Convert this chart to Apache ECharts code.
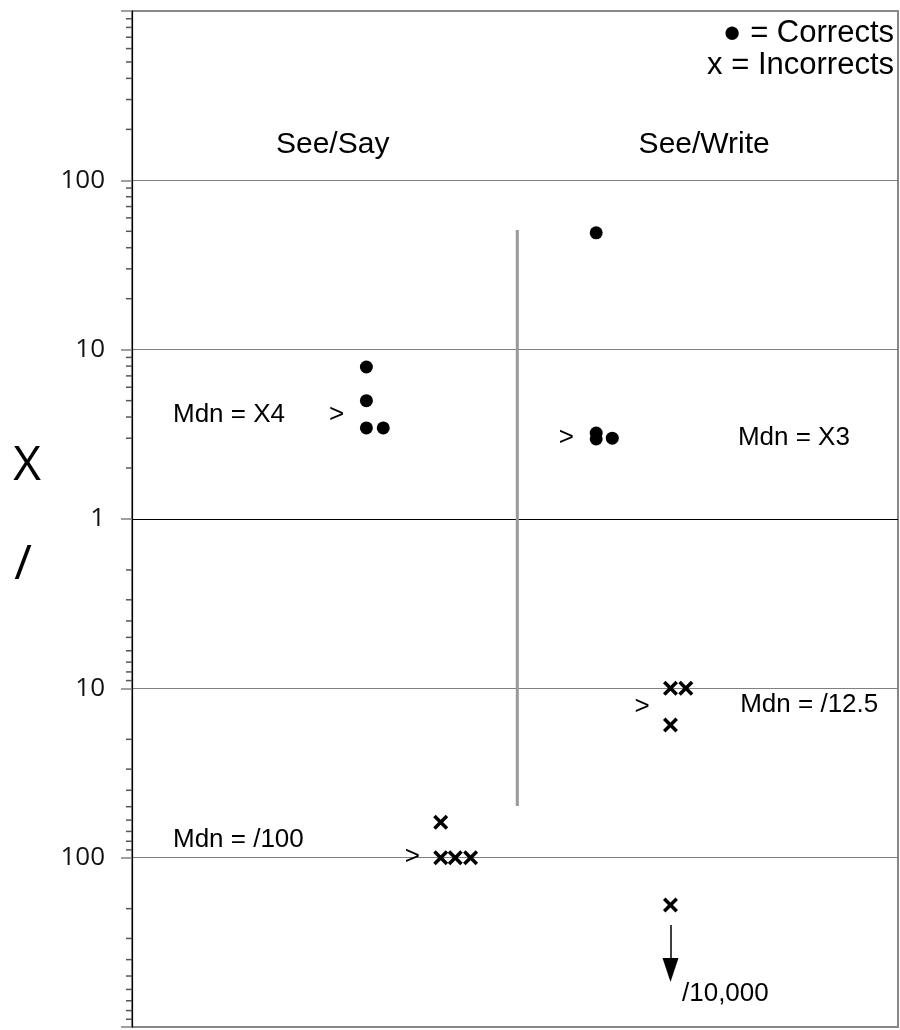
<!DOCTYPE html>
<html>
<head>
<meta charset="utf-8">
<script src="https://cdn.jsdelivr.net/npm/echarts@6/dist/echarts.min.js"></script>
<style>
  html, body { margin: 0; padding: 0; background: #fff; }
  #chart { width: 900px; height: 1030px; }
</style>
</head>
<body>
<div id="chart"></div>
<script>
// x = position across the sheet (0..10), y = multiply/divide value
const sayCorrectX = [3.06, 3.06, 3.06, 3.28];
const sayCorrectY = [7.9, 5.0, 3.45, 3.45];
const writeCorrectX = [6.06, 6.06, 6.06, 6.27];
const writeCorrectY = [49, 3.22, 2.97, 3.0];

const sayIncorrectX = [4.03, 4.03, 4.22, 4.42];
const sayIncorrectY = [0.0162, 0.01, 0.01, 0.01];
const writeIncorrectX = [7.03, 7.23, 7.03, 7.03];
const writeIncorrectY = [0.1, 0.1, 0.0607, 0.00525];

const dividerX = 5.03;
const dividerY = [50.9, 0.0202];

const arrowX = 7.03;
const arrowY = [0.0040, 0.00217];

const minorMultiples = [2, 3, 4, 5, 6, 7, 8, 9];
const decades = [1, 10, 100];

const notes = [
  { x: 2.62, y: 161.8, text: 'See/Say', align: 'center', size: 30 },
  { x: 7.47, y: 161.8, text: 'See/Write', align: 'center', size: 30 },
  { x: 0.535, y: 4.11, text: 'Mdn = X4', align: 'left', size: 26 },
  { x: 2.67, y: 4.14, text: '>', align: 'center', size: 26 },
  { x: 5.67, y: 3.01, text: '>', align: 'center', size: 26 },
  { x: 7.91, y: 3.0, text: 'Mdn = X3', align: 'left', size: 26 },
  { x: 6.66, y: 0.0776, text: '>', align: 'center', size: 26 },
  { x: 7.94, y: 0.0797, text: 'Mdn = /12.5', align: 'left', size: 26 },
  { x: 0.535, y: 0.0127, text: 'Mdn = /100', align: 'left', size: 26 },
  { x: 3.66, y: 0.0101, text: '>', align: 'center', size: 26 },
  { x: 7.18, y: 0.00156, text: '/10,000', align: 'left', size: 26 }
];

const crossPath = 'path://M0,2L2,0L6,4L10,0L12,2L8,6L12,10L10,12L6,8L2,12L0,10L4,6Z';

const zip = (xs, ys) => xs.map((x, i) => [x, ys[i]]);

const minorTicks = [];
decades.forEach(d => {
  minorMultiples.forEach(k => {
    minorTicks.push([0, k * d]);
    minorTicks.push([0, 1 / (k * d)]);
  });
});

const chart = echarts.init(document.getElementById('chart'), null, { renderer: 'canvas' });

const markStyle = { color: '#000', opacity: 1 };

const option = {
  animation: false,
  backgroundColor: '#fff',
  textStyle: { fontFamily: 'Liberation Sans' },
  grid: {
    left: 132,
    right: 2,
    top: 11,
    bottom: 3,
    show: true,
    borderColor: '#888',
    borderWidth: 2
  },
  xAxis: {
    type: 'value',
    min: 0,
    max: 10,
    show: false
  },
  yAxis: {
    type: 'log',
    logBase: 10,
    min: 0.001,
    max: 1000,
    splitNumber: 6,
    axisLine: { show: true, lineStyle: { color: '#000', width: 1.2 } },
    axisTick: { show: true, inside: false, length: 11, lineStyle: { color: '#808080', width: 1.5 } },
    axisLabel: {
      margin: 27,
      fontFamily: 'Open Sans',
      fontSize: 26,
      color: '#111',
      showMinLabel: true,
      showMaxLabel: true,
      formatter: v => {
        if (v >= 999 || v <= 0.00101) return '';
        return v >= 1 ? String(Math.round(v)) : String(Math.round(1 / v));
      }
    },
    splitLine: {
      show: true,
      lineStyle: { color: ['#888', '#808080', '#808080', '#000', '#808080', '#808080', '#888'], width: 1.2 }
    }
  },
  graphic: [
    { type: 'text', right: 6, top: 18, style: { text: '\u25CF = Corrects', font: '31px "Liberation Sans"', fill: '#000' } },
    { type: 'text', right: 6, top: 50, style: { text: 'x = Incorrects', font: '31px "Liberation Sans"', fill: '#000' } },
    { type: 'text', x: 27, y: 466, style: { text: 'X', font: '48px "Open Sans"', fill: '#000', align: 'center', verticalAlign: 'middle' } },
    { type: 'text', x: 23, y: 565, style: { text: '/', font: '48px "Open Sans"', fill: '#000', align: 'center', verticalAlign: 'middle' } }
  ],
  series: [
    {
      name: 'minor ticks',
      type: 'custom',
      silent: true,
      clip: false,
      data: minorTicks,
      renderItem: (params, api) => {
        const p = api.coord([api.value(0), api.value(1)]);
        return {
          type: 'line',
          shape: { x1: p[0] - 6, y1: p[1], x2: p[0], y2: p[1] },
          style: { stroke: '#555', lineWidth: 1.5 }
        };
      }
    },
    {
      name: 'divider',
      type: 'line',
      silent: true,
      symbol: 'none',
      data: dividerY.map(y => [dividerX, y]),
      lineStyle: { color: '#999', width: 3 }
    },
    {
      name: 'See/Say Corrects',
      type: 'scatter',
      symbol: 'circle',
      symbolSize: 13,
      itemStyle: markStyle,
      data: zip(sayCorrectX, sayCorrectY)
    },
    {
      name: 'See/Write Corrects',
      type: 'scatter',
      symbol: 'circle',
      symbolSize: 13,
      itemStyle: markStyle,
      data: zip(writeCorrectX, writeCorrectY)
    },
    {
      name: 'See/Say Incorrects',
      type: 'scatter',
      symbol: crossPath,
      symbolSize: 15,
      itemStyle: markStyle,
      data: zip(sayIncorrectX, sayIncorrectY)
    },
    {
      name: 'See/Write Incorrects',
      type: 'scatter',
      symbol: crossPath,
      symbolSize: 15,
      itemStyle: markStyle,
      data: zip(writeIncorrectX, writeIncorrectY),
      markLine: {
        silent: true,
        symbol: ['none', 'triangle'],
        symbolSize: [16, 24],
        label: { show: false },
        lineStyle: { color: '#000', width: 1.5, type: 'solid', opacity: 1 },
        itemStyle: { color: '#000' },
        data: [[{ coord: [arrowX, arrowY[0]] }, { coord: [arrowX, arrowY[1]] }]]
      }
    },
    {
      name: 'notes',
      type: 'custom',
      silent: true,
      clip: false,
      data: notes.map(n => [n.x, n.y]),
      renderItem: (params, api) => {
        const n = notes[params.dataIndex];
        const p = api.coord([api.value(0), api.value(1)]);
        return {
          type: 'text',
          x: p[0],
          y: p[1],
          style: {
            text: n.text,
            font: n.size + 'px "Liberation Sans"',
            fill: '#000',
            align: n.align,
            verticalAlign: 'middle'
          }
        };
      }
    }
  ]
};

chart.setOption(option);
window.addEventListener('resize', () => chart.resize());
</script>
</body>
</html>
